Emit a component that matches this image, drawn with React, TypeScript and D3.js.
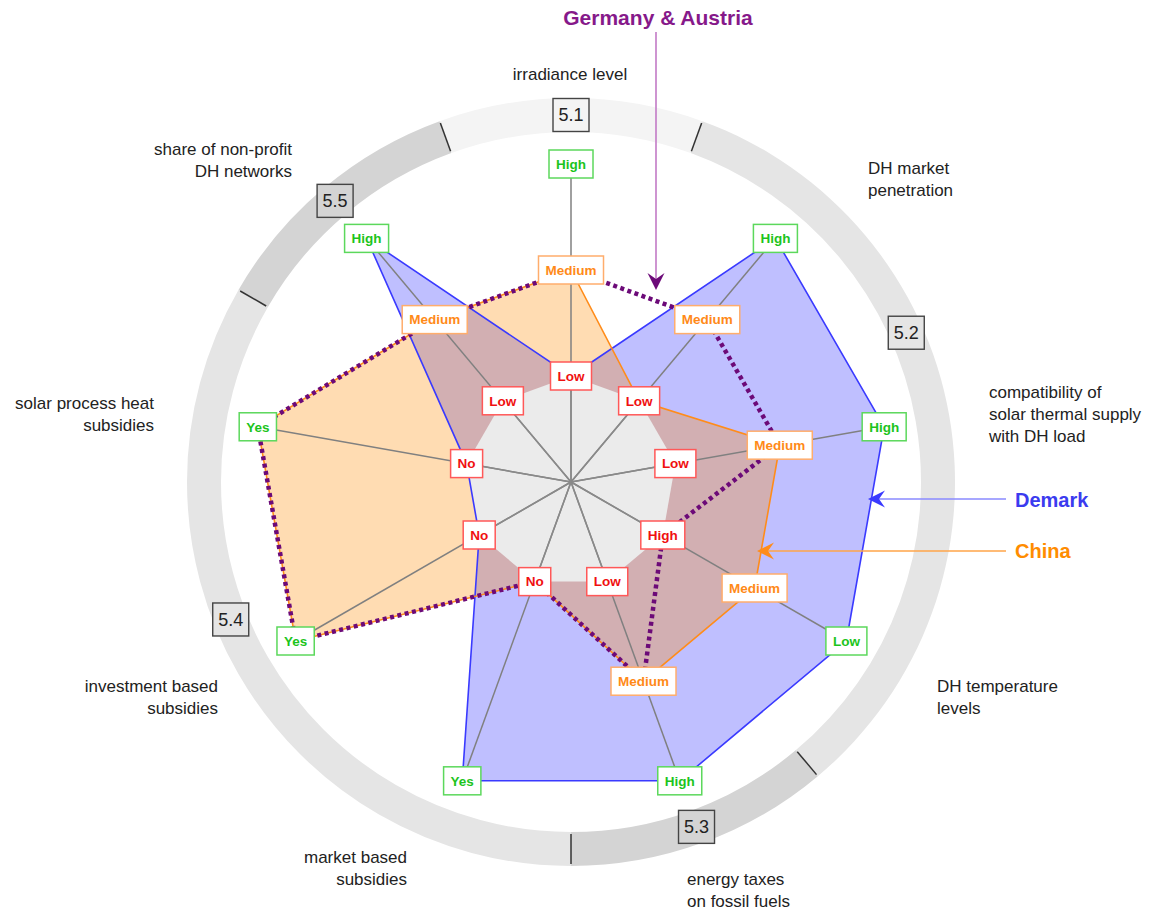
import React, { useEffect, useRef } from "react";
import * as d3 from "d3";

// axis titles, clockwise from the top
const axisTitles = [
  ["irradiance level"],
  ["DH market", "penetration"],
  ["compatibility of", "solar thermal supply", "with DH load"],
  ["DH temperature", "levels"],
  ["energy taxes", "on fossil fuels"],
  ["market based", "subsidies"],
  ["investment based", "subsidies"],
  ["solar process heat", "subsidies"],
  ["share of non-profit", "DH networks"],
];

// label shown at level 1, 2, 3 on each axis
const levelLabels = [
  ["Low", "Medium", "High"],
  ["Low", "Medium", "High"],
  ["Low", "Medium", "High"],
  ["High", "Medium", "Low"],
  ["Low", "Medium", "High"],
  ["No", null, "Yes"],
  ["No", null, "Yes"],
  ["No", null, "Yes"],
  ["Low", "Medium", "High"],
];

// series (level 1..3)
const denmark = [1, 3, 3, 3, 3, 3, 1, 1, 3];
const china = [2, 1, 2, 2, 2, 1, 3, 3, 2];
const germanyAustria = [2, 2, 2, 1, 2, 1, 3, 3, 2];

// chapter sections round the ring
const sectionNames = ["5.1", "5.2", "5.3", "5.4", "5.5"];
const sectionAxes = [[0], [1, 2, 3], [4], [5, 6, 7], [8]];

// layout
const W = 1151;
const H = 911;
const cx = 571;
const cy = 482;
const ringInner = 350;
const ringOuter = 384;
const sectionFill = ["#f4f4f4", "#e5e5e5", "#d4d4d4", "#e5e5e5", "#d4d4d4"];
const sectionLabelAt = [0, 1.65, 4, 6.2, 8]; // in axis units
const titlePlace: [number, number, string][] = [
  [570, 80, "middle"],
  [868, 174, "start"],
  [989, 398, "start"],
  [937, 692, "start"],
  [687, 885, "start"],
  [407, 863, "end"],
  [218, 692, "end"],
  [154, 409, "end"],
  [292, 155, "end"],
];
const levelStyle = [
  null,
  { text: "#f01010", stroke: "#ff5858" },
  { text: "#ff8a18", stroke: "#ffad6c" },
  { text: "#1cc41c", stroke: "#5cd85c" },
];
const FONT = "'Liberation Sans', Arial, Helvetica, sans-serif";

const App = () => {
  const ref = useRef<SVGSVGElement>(null);

  useEffect(() => {
    const svg = d3.select(ref.current);
    svg.selectAll("*").remove();

    const n = axisTitles.length;
    const a = d3.scaleLinear().domain([0, n]).range([0, 2 * Math.PI]);
    const r = d3.scaleLinear().domain([0, 3]).range([0, 318]);
    const px = (i: number, rr: number) => cx + rr * Math.sin(a(i));
    const py = (i: number, rr: number) => cy - rr * Math.cos(a(i));

    const g = svg.append("g").style("font-family", FONT);
    const c = g.append("g").attr("transform", `translate(${cx},${cy})`);

    // ring
    const arc = d3.arc<any>();
    sectionAxes.forEach((ax, k) => {
      const a0 = a(ax[0] - 0.5);
      const a1 = a(ax[ax.length - 1] + 0.5);
      c.append("path")
        .attr("d", arc({ innerRadius: ringInner, outerRadius: ringOuter, startAngle: a0, endAngle: a1 }))
        .attr("fill", sectionFill[k]);
    });
    sectionAxes.forEach((ax) => {
      const e = ax[ax.length - 1] + 0.5;
      g.append("line")
        .attr("x1", px(e, ringInner + 2)).attr("y1", py(e, ringInner + 2))
        .attr("x2", px(e, ringOuter - 2)).attr("y2", py(e, ringOuter - 2))
        .attr("stroke", "#333").attr("stroke-width", 1.5);
    });
    sectionNames.forEach((s, k) => {
      const x = px(sectionLabelAt[k], 367);
      const y = py(sectionLabelAt[k], 367);
      g.append("rect")
        .attr("x", x - 18).attr("y", y - 16.5).attr("width", 36).attr("height", 33)
        .attr("fill", sectionFill[k]).attr("stroke", "#444").attr("stroke-width", 1.4);
      g.append("text").attr("x", x).attr("y", y).attr("dy", "0.36em")
        .attr("text-anchor", "middle").attr("font-size", 18).attr("fill", "#222").text(s);
    });

    // spokes
    d3.range(n).forEach((i) => {
      g.append("line")
        .attr("x1", cx).attr("y1", cy).attr("x2", px(i, r(3))).attr("y2", py(i, r(3)))
        .attr("stroke", "#808080").attr("stroke-width", 1.5);
    });

    const radial = d3.lineRadial<number>()
      .angle((_, i) => a(i))
      .radius((d) => r(d))
      .curve(d3.curveLinearClosed);

    c.append("path").attr("d", radial(denmark)).attr("fill", "rgba(0,0,255,0.25)");
    c.append("path").attr("d", radial(china)).attr("fill", "rgba(255,140,0,0.3)");

    // inner core
    c.append("path").attr("d", radial(d3.range(n).map(() => 1))).attr("fill", "#ebebeb");
    d3.range(n).forEach((i) => {
      g.append("line")
        .attr("x1", cx).attr("y1", cy).attr("x2", px(i, r(1))).attr("y2", py(i, r(1)))
        .attr("stroke", "#8a8a8a").attr("stroke-width", 1.5);
    });

    c.append("path").attr("d", radial(denmark)).attr("fill", "none")
      .attr("stroke", "#3a3aff").attr("stroke-width", 1.6);
    c.append("path").attr("d", radial(china)).attr("fill", "none")
      .attr("stroke", "#ff8c1a").attr("stroke-width", 1.6);
    c.append("path").attr("d", radial(germanyAustria)).attr("fill", "none")
      .attr("stroke", "#6c0a78").attr("stroke-width", 4.5).attr("stroke-dasharray", "4 3.5");

    // level label boxes
    levelLabels.forEach((labs, i) => {
      labs.forEach((lab, j) => {
        if (!lab) return;
        const lv = j + 1;
        const st = levelStyle[lv]!;
        const x = px(i, r(lv));
        const y = py(i, r(lv));
        const lg = g.append("g");
        const rect = lg.append("rect").attr("fill", "#fff")
          .attr("stroke", st.stroke).attr("stroke-width", 1.5);
        const t = lg.append("text").attr("x", x).attr("y", y).attr("dy", "0.36em")
          .attr("text-anchor", "middle").attr("font-size", 13.5).attr("font-weight", "bold")
          .attr("fill", st.text).text(lab);
        const w = (t.node() as SVGTextElement).getComputedTextLength() + 14;
        rect.attr("x", x - w / 2).attr("y", y - 14).attr("width", w).attr("height", 28);
      });
    });

    // axis titles
    axisTitles.forEach((lines, i) => {
      const [x, y, anchor] = titlePlace[i];
      const t = g.append("text").attr("x", x).attr("y", y).attr("text-anchor", anchor)
        .attr("font-size", 17).attr("fill", "#222");
      lines.forEach((l, k) => {
        t.append("tspan").attr("x", x).attr("y", y + k * 22).text(l);
      });
    });

    // annotation arrows
    const head = (x: number, y: number, deg: number, color: string) => {
      g.append("path")
        .attr("d", "M0,0 L-17,-8.5 L-11,0 L-17,8.5 Z")
        .attr("transform", `translate(${x},${y}) rotate(${deg})`)
        .attr("fill", color);
    };
    g.append("line").attr("x1", 656).attr("y1", 32).attr("x2", 656).attr("y2", 280)
      .attr("stroke", "#c27ac6").attr("stroke-width", 1.6);
    head(656, 290, 90, "#6c0a78");
    g.append("text").attr("x", 658).attr("y", 25).attr("text-anchor", "middle")
      .attr("font-size", 21).attr("font-weight", "bold").attr("fill", "#86198a")
      .text("Germany & Austria");

    g.append("line").attr("x1", 1006).attr("y1", 499).attr("x2", 878).attr("y2", 499)
      .attr("stroke", "#8a8aff").attr("stroke-width", 1.6);
    head(868, 499, 180, "#3a3aff");
    g.append("text").attr("x", 1015).attr("y", 507)
      .attr("font-size", 20).attr("font-weight", "bold").attr("fill", "#3b3bef").text("Demark");

    g.append("line").attr("x1", 1006).attr("y1", 551).attr("x2", 767).attr("y2", 551)
      .attr("stroke", "#ffa448").attr("stroke-width", 1.6);
    head(757, 551, 180, "#ff8c1a");
    g.append("text").attr("x", 1015).attr("y", 558)
      .attr("font-size", 20).attr("font-weight", "bold").attr("fill", "#ff8c00").text("China");
  }, []);

  return (
    <svg
      ref={ref}
      width={W}
      height={H}
      style={{ position: "absolute", left: 0, top: 0, background: "#fff" }}
    />
  );
};

export default App;
